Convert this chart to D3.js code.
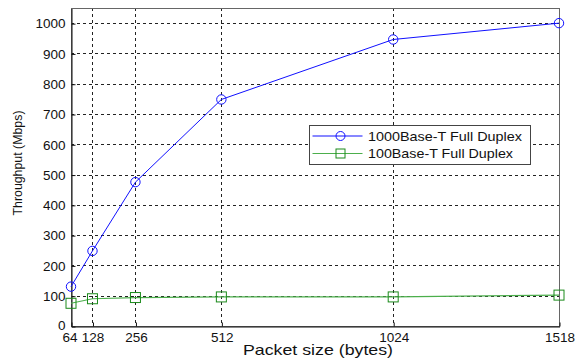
<!DOCTYPE html>
<html>
<head>
<meta charset="utf-8">
<script src="https://cdn.jsdelivr.net/npm/d3@7"></script>
<style>
  body { margin: 0; background: #fff; }
  svg text { font-family: "Liberation Sans", Arial, sans-serif; fill: #111; }
</style>
</head>
<body>
<svg id="chart" width="577" height="362"></svg>
<script>
// packet sizes (bytes)
const packetSizes = [64, 128, 256, 512, 1024, 1518];
// throughput (Mbps)
const gigabit = [130, 248, 475, 748, 946, 1000];
const fastEth = [75, 90, 94, 96, 96, 102];
const yTicks = [0, 100, 200, 300, 400, 500, 600, 700, 800, 900, 1000];
const seriesNames = ["1000Base-T Full Duplex", "100Base-T Full Duplex"];

const svg = d3.select("#chart");
const plotL = 71, plotR = 559, plotT = 8, plotB = 326;

const x = d3.scaleLinear().domain([64, 1518]).range([plotL, plotR]);
const y = d3.scaleLinear().domain([0, 1050]).range([plotB, plotT]);

// grid
const grid = svg.append("g").attr("stroke", "#222").attr("stroke-dasharray", "3,3").attr("stroke-width", 1);
grid.selectAll("line.gx").data(packetSizes.slice(1, -1)).join("line")
    .attr("x1", d => Math.round(x(d)) + 0.5).attr("x2", d => Math.round(x(d)) + 0.5)
    .attr("y1", plotT).attr("y2", plotB);
grid.selectAll("line.gy").data(yTicks.slice(1)).join("line")
    .attr("x1", plotL).attr("x2", plotR)
    .attr("y1", d => Math.round(y(d)) + 0.5).attr("y2", d => Math.round(y(d)) + 0.5);

// frame
svg.append("rect").attr("x", plotL + 0.5).attr("y", plotT + 0.5)
    .attr("width", plotR - plotL).attr("height", plotB - plotT)
    .attr("fill", "none").attr("stroke", "#666").attr("stroke-width", 1);

// axes
const fmt = d3.format("d");
const xAxis = svg.append("g").attr("transform", `translate(0.5,${plotB + 0.5})`)
    .call(d3.axisBottom(x).tickValues(packetSizes).tickFormat(fmt).tickSizeInner(-4).tickSizeOuter(0).tickPadding(6));
const yAxis = svg.append("g").attr("transform", `translate(${plotL + 0.5},0.5)`)
    .call(d3.axisLeft(y).tickValues(yTicks).tickFormat(fmt).tickSizeInner(-4).tickSizeOuter(0).tickPadding(6));
[xAxis, yAxis].forEach(a => {
  a.select(".domain").attr("stroke", "#111");
  a.selectAll(".tick line").attr("stroke", "#111");
  a.selectAll("text").attr("font-size", 13.5).attr("font-family", "Liberation Sans, Arial, sans-serif").attr("fill", "#111");
});
xAxis.selectAll(".tick text").filter(d => d === 64).attr("dx", -2);
xAxis.selectAll(".tick text").filter(d => d === 128).attr("dx", -0.5);
yAxis.selectAll(".tick text").filter(d => d === 0).attr("dy", "0.2em");

// axis labels
svg.append("text").attr("x", 318).attr("y", 355)
    .attr("text-anchor", "middle").attr("font-size", 14.5)
    .attr("textLength", 150).attr("lengthAdjust", "spacingAndGlyphs")
    .text("Packet size (bytes)");
svg.append("text").attr("transform", "translate(22,163) rotate(-90)")
    .attr("text-anchor", "middle").attr("font-size", 13)
    .attr("textLength", 105).attr("lengthAdjust", "spacingAndGlyphs")
    .text("Throughput (Mbps)");

const line = d3.line().x(d => x(d[0])).y(d => y(d[1]));

// 100Base-T
const fe = packetSizes.map((p, i) => [p, fastEth[i]]);
svg.append("path").datum(fe).attr("d", line).attr("fill", "none").attr("stroke", "#4caf4c").attr("stroke-width", 1.2);
svg.selectAll("rect.m").data(fe).join("rect").attr("class", "m")
    .attr("x", d => x(d[0]) - 5).attr("y", d => y(d[1]) - 5).attr("width", 10).attr("height", 10)
    .attr("fill", "none").attr("stroke", "#1a8a1a").attr("stroke-width", 1);

// 1000Base-T
const ge = packetSizes.map((p, i) => [p, gigabit[i]]);
svg.append("path").datum(ge).attr("d", line).attr("fill", "none").attr("stroke", "#1010ff").attr("stroke-width", 1);
svg.selectAll("circle.m").data(ge).join("circle").attr("class", "m")
    .attr("cx", d => x(d[0])).attr("cy", d => y(d[1])).attr("r", 4.7)
    .attr("fill", "none").attr("stroke", "#1010ff").attr("stroke-width", 1);

// legend
const lg = svg.append("g").attr("transform", "translate(309.5,125.5)");
lg.append("rect").attr("width", 221).attr("height", 39).attr("fill", "#fff").attr("stroke", "#444");
const rows = [
  { name: seriesNames[0], color: "#1010ff", marker: "circle", y: 10.5, w: 154 },
  { name: seriesNames[1], color: "#4caf4c", marker: "rect", y: 28, w: 145 }
];
rows.forEach(r => {
  lg.append("line").attr("x1", 3).attr("x2", 53).attr("y1", r.y).attr("y2", r.y)
    .attr("stroke", r.color).attr("stroke-width", 1.2);
  if (r.marker === "circle") {
    lg.append("circle").attr("cx", 31).attr("cy", r.y).attr("r", 4.5)
      .attr("fill", "none").attr("stroke", r.color);
  } else {
    lg.append("rect").attr("x", 26.5).attr("y", r.y - 4.5).attr("width", 9).attr("height", 9)
      .attr("fill", "none").attr("stroke", "#1a8a1a");
  }
  lg.append("text").attr("x", 58.5).attr("y", r.y + 4.5).attr("font-size", 13)
    .attr("textLength", r.w).attr("lengthAdjust", "spacingAndGlyphs").text(r.name);
});
</script>
</body>
</html>
